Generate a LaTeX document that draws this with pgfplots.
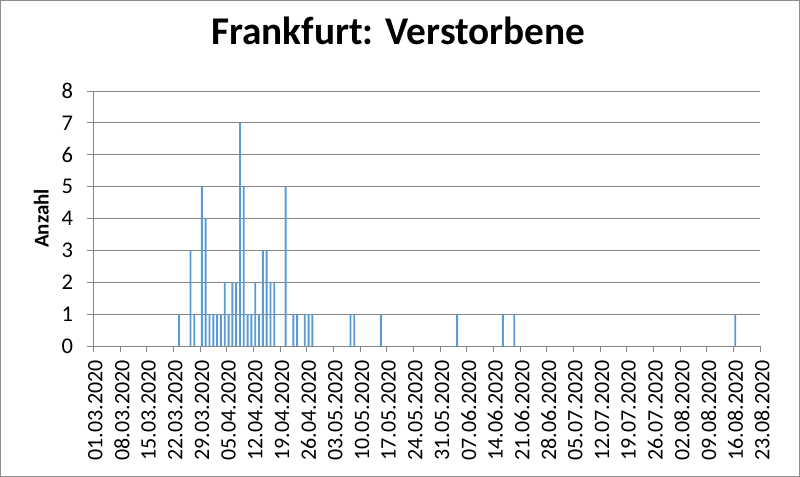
\documentclass[border=0pt]{standalone}
\usepackage{pgfplots}
\pgfplotsset{compat=1.18}
\usepackage{fontspec}
\setmainfont{Carlito}
\definecolor{barblue}{HTML}{5B9BD5}
\definecolor{gridgray}{HTML}{868686}
\definecolor{framegray}{HTML}{8C8C8C}
\begin{document}
\begin{tikzpicture}[x=1bp,y=1bp]
\useasboundingbox (0,0) rectangle (800,477);
\draw[framegray, line width=1.2bp] (0.6,0.6) rectangle (799.4,476.4);
\begin{axis}[
  at={(93.3bp,131bp)}, anchor=south west,
  scale only axis, width=666.7bp, height=255bp,
  xmin=0, xmax=175, ymin=0, ymax=8,
  axis x line*=bottom, axis y line*=left,
  x axis line style={-, gridgray, line width=0.9bp},
  y axis line style={-, gridgray, line width=0.9bp},
  ytick={0,...,8},
  xtick={0,7,...,175},
  xticklabels={01.03.2020,08.03.2020,15.03.2020,22.03.2020,29.03.2020,05.04.2020,12.04.2020,19.04.2020,26.04.2020,03.05.2020,10.05.2020,17.05.2020,24.05.2020,31.05.2020,07.06.2020,14.06.2020,21.06.2020,28.06.2020,05.07.2020,12.07.2020,19.07.2020,26.07.2020,02.08.2020,09.08.2020,16.08.2020,23.08.2020},
  tick align=outside, major tick length=6bp,
  tick style={gridgray, line width=0.9bp},
  ymajorgrids, grid style={gridgray, line width=0.9bp},
  x tick label style={font=\fontsize{22bp}{26bp}\selectfont, text=black, yshift=-8bp, xshift=2bp, rotate=90, anchor=east, inner sep=0pt},
  y tick label style={font=\fontsize{22.5bp}{27bp}\selectfont, text=black, anchor=east, inner sep=0pt, xshift=-14bp},
  /pgf/number format/assume math mode=true,
  ylabel={Anzahl},
  ylabel style={font=\fontsize{21bp}{25bp}\selectfont\bfseries, at={(axis description cs:0,0.5)}, anchor=center, yshift=52bp},
  title={Frankfurt: Verstorbene},
  title style={font=\fontsize{39.3bp}{41bp}\selectfont\bfseries, at={(axis description cs:0.4575,1)}, anchor=base, yshift=41bp, inner sep=0pt},
  clip=false,
]
\addplot[ybar, bar width=0.5, fill=barblue, draw=none] coordinates {
(22.5,1) (25.5,3) (26.5,1) (28.5,5) (29.5,4) (30.5,1) (31.5,1) (32.5,1)
(33.5,1) (34.5,2) (35.5,1) (36.5,2) (37.5,2) (38.5,7) (39.5,5) (40.5,1)
(41.5,1) (42.5,2) (43.5,1) (44.5,3) (45.5,3) (46.5,2) (47.5,2) (50.5,5)
(52.5,1) (53.5,1) (55.5,1) (56.5,1) (57.5,1) (67.5,1) (68.5,1) (75.5,1)
(95.5,1) (107.5,1) (110.5,1) (168.5,1)
};
\end{axis}
\end{tikzpicture}
\end{document}
